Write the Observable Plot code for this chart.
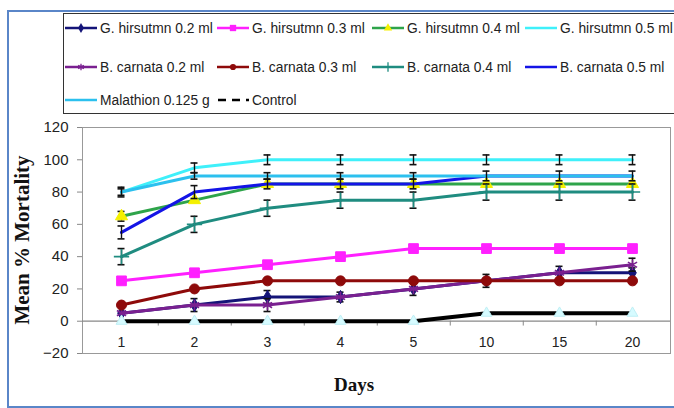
<!DOCTYPE html>
<html><head><meta charset="utf-8">
<script src="https://cdn.jsdelivr.net/npm/d3@7"></script>
<script src="https://cdn.jsdelivr.net/npm/@observablehq/plot@0.6"></script>
<style>
body{margin:0;background:#fff;font-family:"Liberation Sans",Arial,sans-serif;}
#wrap{position:relative;width:674px;height:408px;overflow:hidden;background:#fff}
#frame{position:absolute;left:7px;top:10px;width:700px;height:394px;border:2px solid #5a86c8;}
#legend{position:absolute;left:63px;top:13px;width:620px;height:99px;border:1px solid #333;background:#fff}
.item{position:absolute;display:flex;align-items:center;font-size:13.8px;color:#222;white-space:nowrap;height:16px}
.item svg{margin-right:2px}
#chart{position:absolute;left:0;top:113px}
#ytitle{position:absolute;left:22px;top:240px;transform:translate(-50%,-50%) rotate(-90deg);font:bold 21px "Liberation Serif","Times New Roman",serif;color:#111;white-space:nowrap}
#xtitle{position:absolute;left:354px;top:385px;transform:translate(-50%,-50%);font:bold 19px "Liberation Serif","Times New Roman",serif;color:#111}
</style></head>
<body>
<div id="wrap">
  <div id="frame"></div>
  <div id="legend"></div>
  <div id="chart"></div>
  <div id="ytitle">Mean % Mortality</div>
  <div id="xtitle">Days</div>
</div>
<script>
// ---- data ----
const days = ["1","2","3","4","5","10","15","20"];
const yTicks = [-20,0,20,40,60,80,100,120];
const seriesNames = ["G. hirsutmn 0.2 ml","G. hirsutmn 0.3 ml","G. hirsutmn 0.4 ml","G. hirsutmn 0.5 ml",
  "B. carnata 0.2 ml","B. carnata 0.3 ml","B. carnata 0.4 ml","B. carnata 0.5 ml","Malathion 0.125 g","Control"];
const gHir02 = [5,10,15,15,20,25,30,30];
const gHir03 = [25,30,35,40,45,45,45,45];
const gHir04 = [65,75,85,85,85,85,85,85];
const gHir05 = [80,95,100,100,100,100,100,100];
const bCar02 = [5,10,10,15,20,25,30,35];
const bCar03 = [10,20,25,25,25,25,25,25];
const bCar04 = [40,60,70,75,75,80,80,80];
const bCar05 = [55,80,85,85,85,90,90,90];
const malathion = [80,90,90,90,90,90,90,90];
const control = [0,0,0,0,0,5,5,5];
// error bar half-widths (0 = none)
const errGHir02 = [0,4,4,3,0,0,4,3];
const errGHir03 = [0,0,0,0,0,0,0,0];
const errGHir04 = [3,0,0,0,0,0,0,0];
const errGHir05 = [3,3,3,3,3,3,3,3];
const errBCar02 = [0,0,4,0,4,0,0,4];
const errBCar03 = [0,0,0,0,0,4,0,0];
const errBCar04 = [5,5,5,5,5,5,5,5];
const errBCar05 = [4,4,3,3,3,0,0,0];
const errMal = [2,2,2,2,2,3,3,3];
const errControl = [0,0,0,0,0,0,0,0];

const values = [gHir02,gHir03,gHir04,gHir05,bCar02,bCar03,bCar04,bCar05,malathion,control];
const errors = [errGHir02,errGHir03,errGHir04,errGHir05,errBCar02,errBCar03,errBCar04,errBCar05,errMal,errControl];

// ---- styles ----
const styles = [
  {color:"#141478", symbol:"diamond", mode:"fill", mcolor:"#141478", r:4},
  {color:"#ff20ff", symbol:"square", mode:"fill", mcolor:"#ff20ff", r:5.5},
  {color:"#2ea44a", symbol:"triangle", mode:"fill", mcolor:"#f4f000", r:4.5},
  {color:"#3ff0fa", symbol:null},
  {color:"#7a2090", symbol:"asterisk", mode:"stroke", mcolor:"#7a2090", r:5},
  {color:"#8e0a0a", symbol:"circle", mode:"fill", mcolor:"#8e0a0a", r:5},
  {color:"#1f8c80", symbol:"plus", mode:"stroke", mcolor:"#1f8c80", r:5},
  {color:"#1414e6", symbol:null},
  {color:"#2cc0ee", symbol:null},
  {color:"#000000", symbol:"triangle", mode:"fill", mcolor:"#d6fbff", r:4, dash:true}
];

const table = seriesNames.flatMap((name, s) => days.map((d, i) => ({series: s, name, day: d, value: values[s][i], err: errors[s][i]})));

const marks = [
  Plot.frame({stroke:"#999", strokeWidth:1}),
  Plot.ruleY([0], {stroke:"#888", strokeWidth:1.2}),
  Plot.ruleX(days.slice(0, days.length - 1), {x: d => d, y1: 0, y2: -3, dx: 36.75, stroke:"#888"}),
  Plot.axisY({ticks: yTicks, tickSize: 5, tickPadding: 9, stroke:"#888", fill:"#222", fontSize: 15, label: null}),
  Plot.text(days, {x: d => d, frameAnchor: "bottom", dy: -7, text: d => d, fontSize: 14, fill:"#222"})
];

seriesNames.forEach((name, s) => {
  const st = styles[s];
  const data = table.filter(r => r.series === s);
  const eb = data.filter(r => r.err > 0);
  marks.push(Plot.line(data, {x:"day", y:"value", stroke: st.color, strokeWidth: s === 9 ? 4 : 3, curve:"linear"}));
  if (eb.length) {
    marks.push(Plot.ruleX(eb, {x:"day", y1: r => r.value - r.err, y2: r => r.value + r.err, stroke:"#111", strokeWidth:1.4}));
    marks.push(Plot.ruleY(eb, {x1:"day", x2:"day", y: r => r.value + r.err, insetLeft:-3.5, insetRight:-3.5, stroke:"#111", strokeWidth:1.6}));
    marks.push(Plot.ruleY(eb, {x1:"day", x2:"day", y: r => r.value - r.err, insetLeft:-3.5, insetRight:-3.5, stroke:"#111", strokeWidth:1.6}));
  }
  if (st.symbol) {
    if (st.mode === "fill") marks.push(Plot.dot(data, {x:"day", y:"value", symbol: st.symbol, r: st.r, fill: st.mcolor, stroke: s === 9 ? "#bfeff5" : st.mcolor, strokeWidth:1}));
    else marks.push(Plot.dot(data, {x:"day", y:"value", symbol: st.symbol, r: st.r, stroke: st.mcolor, strokeWidth:1.6}));
  }
});

const chart = Plot.plot({
  width: 674, height: 295,
  marginLeft: 82, marginRight: 4, marginTop: 14, marginBottom: 55,
  style: {fontFamily: '"Liberation Sans", Arial, sans-serif', background:"transparent"},
  x: {type:"point", domain: days, padding: 0.5, axis: null},
  y: {domain: [-20, 120], axis: null},
  marks
});
document.getElementById("chart").appendChild(chart);

// ---- legend ----
const legend = document.getElementById("legend");
const cols = [0, 152, 307, 460];
const rows = [6, 45, 78];
const layout = [[0,0],[0,1],[0,2],[0,3],[1,0],[1,1],[1,2],[1,3],[2,0],[2,1]];
seriesNames.forEach((name, s) => {
  const st = styles[s];
  const [r, c] = layout[s];
  const item = document.createElement("div");
  item.className = "item";
  item.style.left = cols[c] + "px";
  item.style.top = rows[r] + "px";
  const svg = d3.create("svg").attr("width", 34).attr("height", 14);
  const line = svg.append("line").attr("x1", 1).attr("x2", 33).attr("y1", 7).attr("y2", 7)
    .attr("stroke", st.color).attr("stroke-width", 2.5);
  if (st.dash) line.attr("stroke-dasharray", "8,6").attr("x1", 2);
  if (st.symbol && !st.dash) {
    const sym = {diamond: d3.symbolDiamond, square: d3.symbolSquare, triangle: d3.symbolTriangle, circle: d3.symbolCircle, asterisk: d3.symbolAsterisk, plus: d3.symbolPlus}[st.symbol];
    const p = svg.append("path").attr("transform", "translate(17,7)")
      .attr("d", d3.symbol(sym, st.symbol === "square" ? 40 : 30)());
    if (st.mode === "fill") p.attr("fill", st.mcolor);
    else p.attr("fill", "none").attr("stroke", st.mcolor).attr("stroke-width", 1.3);
  }
  item.appendChild(svg.node());
  const t = document.createElement("span");
  t.textContent = name;
  item.appendChild(t);
  legend.appendChild(item);
});
</script>
</body></html>
